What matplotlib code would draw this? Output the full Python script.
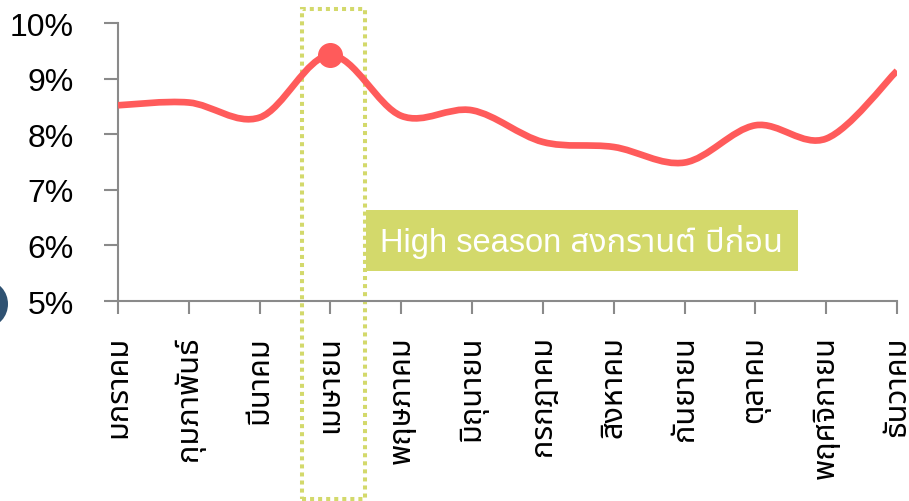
import matplotlib
matplotlib.use("Agg")
import matplotlib.pyplot as plt
from matplotlib.path import Path
from matplotlib.patches import PathPatch, Rectangle, Ellipse
from matplotlib.ticker import FuncFormatter
import numpy as np

months = ["มกราคม", "กุมภาพันธ์", "มีนาคม", "เมษายน", "พฤษภาคม", "มิถุนายน",
          "กรกฎาคม", "สิงหาคม", "กันยายน", "ตุลาคม", "พฤศจิกายน", "ธันวาคม"]
values = [8.52, 8.57, 8.30, 9.42, 8.33, 8.43, 7.86, 7.77, 7.49, 8.16, 7.92, 9.14]
highlight_index = 3
annotation_text = "High season สงกรานต์ ปีก่อน"
y_ticks = [5, 6, 7, 8, 9, 10]

RED = "#FF5B5B"
GREEN = "#D3D96B"
AXIS = "#8A8A8A"
THAI = ["Noto Sans Thai", "DejaVu Sans"]
MIXED = ["Liberation Sans", "Noto Sans Thai", "DejaVu Sans"]

fig = plt.figure(figsize=(9.09, 5.02), dpi=100)
ax = fig.add_axes([118/909, 1-302/502, (897-118)/909, 278/502])

x = np.arange(len(values))
y = np.array(values)

# smoothed line (Catmull-Rom as cubic Bezier segments, data coords)
verts = [(x[0], y[0])]
codes = [Path.MOVETO]
n = len(x)
for i in range(n - 1):
    p0 = np.array([x[max(i-1, 0)], y[max(i-1, 0)]])
    p1 = np.array([x[i], y[i]])
    p2 = np.array([x[i+1], y[i+1]])
    p3 = np.array([x[min(i+2, n-1)], y[min(i+2, n-1)]])
    c1 = p1 + (p2 - p0) / 6.0
    c2 = p2 - (p3 - p1) / 6.0
    verts += [tuple(c1), tuple(c2), tuple(p2)]
    codes += [Path.CURVE4] * 3
ax.add_patch(PathPatch(Path(verts, codes), facecolor="none", edgecolor=RED,
                       lw=4.8, capstyle="butt", joinstyle="round", zorder=3))
ax.plot([x[highlight_index]], [y[highlight_index]], "o", color=RED,
        markersize=17, zorder=4)

ax.set_xlim(0, len(values) - 1)
ax.set_ylim(5, 10)
ax.set_yticks(y_ticks)
ax.yaxis.set_major_formatter(FuncFormatter(lambda v, p: f"{v:.0f}%"))
ax.set_xticks(x)
ax.set_xticklabels(months, rotation=90, family=THAI, fontsize=22)
for lab in ax.get_yticklabels():
    lab.set_family(["Liberation Sans", "DejaVu Sans"])
    lab.set_fontsize(23)
ax.tick_params(axis="y", length=10, width=1.5, color=AXIS, pad=22)
ax.tick_params(axis="x", length=9.5, width=1.5, color=AXIS, pad=15)
for s in ["top", "right"]:
    ax.spines[s].set_visible(False)
for s in ["left", "bottom"]:
    ax.spines[s].set_color(AXIS)
    ax.spines[s].set_linewidth(1.5)

# dotted highlight frame around April
hx = x[highlight_index]
ax.add_patch(Rectangle((hx - 0.40, 1.43), 0.89, 8.82, fill=False,
                       edgecolor=GREEN, lw=2.9, linestyle=(0, (1, 1)),
                       clip_on=False, zorder=2))

# annotation box
ax.add_patch(Rectangle((3.50, 5.54), 6.10, 1.10, facecolor=GREEN,
                       edgecolor="none", clip_on=False, zorder=2))
ax.text(6.54, 6.08, annotation_text, ha="center", va="center", color="white",
        fontsize=23.5, family=MIXED, zorder=5)

# partial dark shape at left edge
fig.add_artist(Ellipse((-13/909, 1-305/502), 42/909, 46/502,
                       transform=fig.transFigure, facecolor="#2F5272",
                       edgecolor="none"))

fig.savefig("out.png", dpi=100)
